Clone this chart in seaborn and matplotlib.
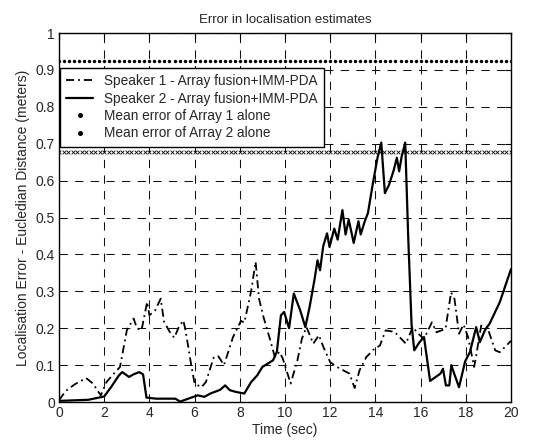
import numpy as np
import pandas as pd
import matplotlib
matplotlib.use("Agg")
import matplotlib.pyplot as plt
from matplotlib.lines import Line2D
import seaborn as sns

# ---- data ----
t_spk1 = [0, 0.3, 0.7, 1.2, 1.5, 1.85, 2.1, 2.4, 2.7, 3.0, 3.3, 3.45, 3.65, 3.9, 4.0,
          4.25, 4.5, 4.65, 4.9, 5.1, 5.3, 5.5, 5.6, 5.85, 6.0, 6.3, 6.5, 6.85, 7.05,
          7.3, 7.7, 8.05, 8.2, 8.5, 8.7, 8.85, 9.05, 9.35, 9.55, 9.75, 9.9, 10.25,
          10.55, 10.75, 10.95, 11.25, 11.5, 11.7, 12.0, 12.3, 12.85, 13.08, 13.3,
          13.6, 13.95, 14.2, 14.45, 14.85, 15.35, 15.65, 15.9, 16.15, 16.5, 16.7,
          17.1, 17.35, 17.5, 17.7, 17.9, 18.1, 18.37, 18.46, 18.68, 18.95, 19.3,
          19.5, 19.8, 20.0]
err_spk1 = [0.005, 0.03, 0.048, 0.065, 0.05, 0.018, 0.054, 0.075, 0.095, 0.194, 0.226,
            0.2, 0.194, 0.271, 0.235, 0.248, 0.28, 0.217, 0.19, 0.174, 0.203, 0.221,
            0.194, 0.1, 0.05, 0.04, 0.054, 0.122, 0.124, 0.1, 0.176, 0.22, 0.215, 0.3,
            0.38, 0.28, 0.23, 0.167, 0.122, 0.136, 0.118, 0.05, 0.113, 0.172, 0.203,
            0.158, 0.181, 0.149, 0.108, 0.095, 0.077, 0.038, 0.086, 0.122, 0.144,
            0.153, 0.194, 0.19, 0.158, 0.203, 0.185, 0.171, 0.216, 0.189, 0.198,
            0.297, 0.279, 0.185, 0.21, 0.176, 0.095, 0.126, 0.207, 0.203, 0.14,
            0.135, 0.153, 0.166]

t_spk2 = [0, 1.3, 2.0, 2.3, 2.65, 2.8, 3.1, 3.3, 3.55, 3.72, 3.87, 4.3, 5.15, 5.36,
          5.72, 6.14, 6.43, 6.7, 7.13, 7.35, 7.56, 7.85, 8.2, 8.5, 8.77, 9.0, 9.47,
          9.64, 9.82, 9.96, 10.18, 10.39, 10.67, 10.9, 11.09, 11.3, 11.44, 11.55,
          11.69, 11.86, 11.97, 12.18, 12.33, 12.54, 12.68, 12.82, 13.04, 13.25,
          13.35, 13.53, 13.67, 13.89, 14.1, 14.26, 14.42, 14.6, 14.81, 14.95,
          15.05, 15.16, 15.32, 15.45, 15.6, 15.72, 15.95, 16.15, 16.42, 16.88,
          16.99, 17.12, 17.27, 17.36, 17.48, 17.7, 17.97, 18.18, 18.46, 18.62,
          18.85, 19.05, 19.5, 20.0]
err_spk2 = [0.003, 0.006, 0.015, 0.04, 0.072, 0.081, 0.068, 0.075, 0.081, 0.075,
            0.012, 0.009, 0.009, 0.001, 0.009, 0.018, 0.014, 0.023, 0.033, 0.045,
            0.032, 0.027, 0.023, 0.054, 0.072, 0.095, 0.113, 0.136, 0.235, 0.244,
            0.2, 0.294, 0.249, 0.203, 0.258, 0.33, 0.384, 0.357, 0.422, 0.457, 0.42,
            0.47, 0.44, 0.52, 0.454, 0.494, 0.431, 0.49, 0.454, 0.49, 0.512, 0.593,
            0.664, 0.703, 0.566, 0.588, 0.628, 0.662, 0.625, 0.665, 0.703, 0.45,
            0.21, 0.14, 0.162, 0.176, 0.057, 0.077, 0.09, 0.045, 0.045, 0.1, 0.078,
            0.04, 0.11, 0.135, 0.203, 0.162, 0.195, 0.212, 0.27, 0.36]

mean_array1 = 0.923
mean_array2 = 0.678

labels = ["Speaker 1 - Array fusion+IMM-PDA",
          "Speaker 2 - Array fusion+IMM-PDA",
          "Mean error of Array 1 alone",
          "Mean error of Array 2 alone"]

# ---- style ----
sns.set_theme(style="white")
plt.rcParams["font.family"] = ["Liberation Sans", "DejaVu Sans"]
plt.rcParams["xtick.direction"] = "in"
plt.rcParams["ytick.direction"] = "in"

fig = plt.figure(figsize=(5.43, 4.40), dpi=100)
ax = fig.add_axes([59 / 543, 1 - 402 / 440, 452 / 543, 369 / 440])

dashdot = (0, (4.5, 2.2, 1, 2.2))
df1 = pd.DataFrame({"t": t_spk1, "e": err_spk1})
df2 = pd.DataFrame({"t": t_spk2, "e": err_spk2})
sns.lineplot(data=df1, x="t", y="e", ax=ax, color="black", lw=1.3,
             linestyle=dashdot, sort=False)
sns.lineplot(data=df2, x="t", y="e", ax=ax, color="black", lw=1.6, sort=False)

t_dots = np.linspace(0, 20, 91)
t_cross = np.linspace(0, 20, 101)
dfm1 = pd.DataFrame({"t": t_dots, "e": [mean_array1] * len(t_dots)})
dfm2 = pd.DataFrame({"t": t_cross, "e": [mean_array2] * len(t_cross)})
sns.scatterplot(data=dfm1, x="t", y="e", ax=ax, color="black", marker="o", s=6,
                linewidth=0, zorder=3)
sns.scatterplot(data=dfm2, x="t", y="e", ax=ax, color="black", marker="x", s=7,
                linewidth=0.6, zorder=3)

ax.set_xlim(0, 20)
ax.set_ylim(0, 1)
ax.set_xticks(np.arange(0, 21, 2))
ax.set_yticks(np.round(np.arange(0, 1.01, 0.1), 1))
ax.set_yticklabels(["0", "0.1", "0.2", "0.3", "0.4", "0.5", "0.6", "0.7", "0.8", "0.9", "1"])
ax.tick_params(axis="both", labelsize=10, length=4, width=0.8, color="black",
               top=True, right=True, pad=3)
ax.grid(True, color="#111111", lw=0.75, linestyle=(0, (8, 7)))
for s in ax.spines.values():
    s.set_color("black")
    s.set_linewidth(1.0)

ax.set_xlabel("Time (sec)", fontsize=10, labelpad=2)
ax.set_ylabel("Localisation Error - Eucledian Distance (meters)", fontsize=10, labelpad=4)
ax.set_title("Error in localisation estimates", fontsize=9.5, pad=7)

handles = [
    Line2D([], [], color="black", lw=1.3, linestyle=dashdot),
    Line2D([], [], color="black", lw=1.6),
    Line2D([], [], color="black", lw=0, marker="o", markersize=2.6),
    Line2D([], [], color="black", lw=0, marker="o", markersize=2.6),
]
leg = ax.legend(handles, labels, loc="upper left", bbox_to_anchor=(0.002, 0.905),
                fontsize=9.8, frameon=True, fancybox=False, framealpha=1,
                edgecolor="black", borderpad=0.45, labelspacing=0.25,
                handlelength=2.0, handletextpad=0.8, borderaxespad=0)
leg.get_frame().set_linewidth(1.0)

fig.savefig("out.png", dpi=100, facecolor="white")
